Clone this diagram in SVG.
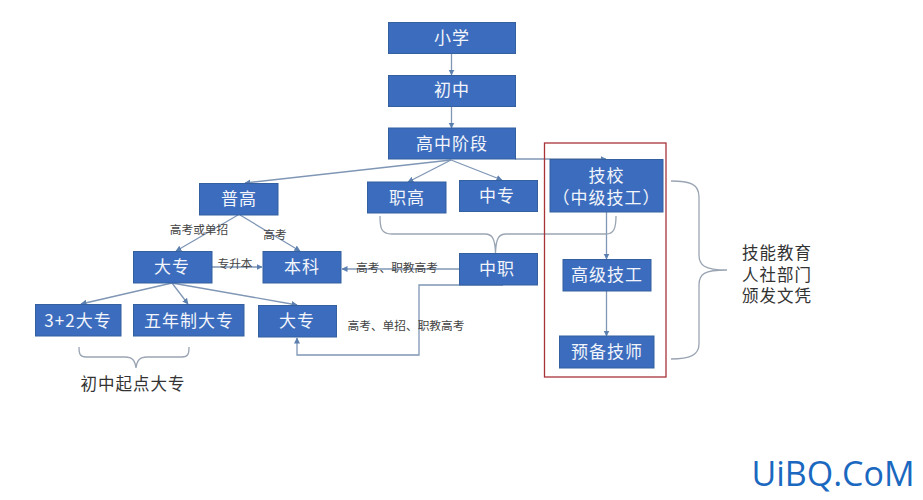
<svg xmlns="http://www.w3.org/2000/svg" width="923" height="500" viewBox="0 0 923 500">
<style>
text{font-family:"Noto Sans CJK SC","Liberation Sans",sans-serif;text-anchor:middle}
.b{fill:#3c6cbd;stroke:#35609f;stroke-width:1}
.t{fill:#f2f5fb;font-size:17px;letter-spacing:1px}
.l{fill:#444;font-size:11.700px}
.k{fill:#333;font-size:16.500px;letter-spacing:1px}
.c{fill:none;stroke:#7f96b5;stroke-width:1.3}
.br{fill:none;stroke:#9aa5b3;stroke-width:1.3}
</style>
<defs><marker id="a" markerWidth="7" markerHeight="7" refX="5.5" refY="3" orient="auto" markerUnits="userSpaceOnUse"><path d="M0,0L6,3L0,6Z" fill="#5b7fae"/></marker></defs>
<rect width="923" height="500" fill="#fff"/>
<g id="connectors">
<path class="c" marker-end="url(#a)" d="M451.500,53V75"/>
<path class="c" marker-end="url(#a)" d="M451.500,106V128"/>
<path class="c" marker-end="url(#a)" d="M451,160L245,183"/>
<path class="c" marker-end="url(#a)" d="M451,160L408,182"/>
<path class="c" marker-end="url(#a)" d="M451,160L502,180"/>
<path class="c" marker-end="url(#a)" d="M515,159H606"/>
<path class="c" marker-end="url(#a)" d="M238,215L176,251"/>
<path class="c" marker-end="url(#a)" d="M240,215L300,251"/>
<path class="c" marker-end="url(#a)" d="M212,267H262"/>
<path class="c" marker-end="url(#a)" d="M172,283L81,304"/>
<path class="c" marker-end="url(#a)" d="M172,283L188,304"/>
<path class="c" marker-end="url(#a)" d="M172,283L297,305"/>
<path class="c" marker-end="url(#a)" d="M459,269H342"/>
<path class="c" marker-end="url(#a)" d="M503,285H419V355H297V338"/>
<path class="c" marker-end="url(#a)" d="M606.500,212V259"/>
<path class="c" marker-end="url(#a)" d="M606.500,291V336"/>
<path class="br" d="M380,216C380,228 381,234 392,234H485C492,234 495,238 495.500,253C496,238 499,234 506,234H606C614,234 616,228 616,216"/>
<path class="br" d="M79,347C79,354 80,357 86,357H125C132,357 135,360 136,368C137,360 140,357 147,357H182C188,357 189,354 189,347"/>
<path class="br" d="M671,181C690,181 699,184 699,197V255C699,265 704,270 727,270C704,270 699,274 699,285V344C699,355 690,359 671,359"/>
</g>
<rect x="544.500" y="143" width="121.500" height="234" fill="none" stroke="#a8343a" stroke-width="1.300"/>
<g id="n-xiaoxue"><rect class="b" x="388.500" y="22.500" width="127" height="31"/><text class="t" x="452" y="44">小学</text></g>
<g id="n-chuzhong"><rect class="b" x="388.500" y="75.500" width="127" height="31"/><text class="t" x="452" y="96">初中</text></g>
<g id="n-gaozhong"><rect class="b" x="388.500" y="128" width="127" height="31"/><text class="t" x="452" y="150">高中阶段</text></g>
<g id="n-zhigao"><rect class="b" x="367.500" y="182" width="78.500" height="31"/><text class="t" x="407" y="204">职高</text></g>
<g id="n-zhongzhuan"><rect class="b" x="459.500" y="180.500" width="78" height="31"/><text class="t" x="497" y="202">中专</text></g>
<g id="n-jixiao"><rect class="b" x="550" y="159.500" width="113" height="52.500"/><text class="t" y="182"><tspan x="606.500">技校</tspan><tspan x="606.500" dy="22">（中级技工）</tspan></text></g>
<g id="n-zhongzhi"><rect class="b" x="459.500" y="253.500" width="78" height="31.500"/><text class="t" x="497" y="275">中职</text></g>
<g id="n-gaoji"><rect class="b" x="563" y="259.500" width="88" height="31.500"/><text class="t" x="607" y="281">高级技工</text></g>
<g id="n-yubei"><rect class="b" x="559.500" y="336" width="94.500" height="32"/><text class="t" x="607" y="358">预备技师</text></g>
<g id="n-pugao"><rect class="b" x="199.500" y="183.500" width="78.500" height="31.500"/><text class="t" x="239" y="205">普高</text></g>
<g id="n-dazhuan"><rect class="b" x="133.500" y="251.500" width="78.500" height="31.500"/><text class="t" x="172" y="273">大专</text></g>
<g id="n-benke"><rect class="b" x="263" y="251.500" width="78" height="31.500"/><text class="t" x="302" y="273">本科</text></g>
<g id="n-32"><rect class="b" x="35.500" y="304.500" width="85.500" height="31.500"/><text class="t" x="78" y="327">3+2大专</text></g>
<g id="n-wunian"><rect class="b" x="133.500" y="304.500" width="110.500" height="31.500"/><text class="t" x="189" y="327">五年制大专</text></g>
<g id="n-dazhuan2"><rect class="b" x="258.500" y="305.500" width="78" height="31.500"/><text class="t" x="297" y="327">大专</text></g>
<g id="labels">
<text class="l" x="199" y="234">高考或单招</text>
<text class="l" x="275" y="239">高考</text>
<text class="l" x="235" y="268">专升本</text>
<text class="l" x="397" y="272">高考、职教高考</text>
<text class="l" x="406" y="330">高考、单招、职教高考</text>
<text class="k" x="133" y="390">初中起点大专</text>
<text class="k" y="259"><tspan x="777">技能教育</tspan><tspan x="777" dy="21.500">人社部门</tspan><tspan x="777" dy="21.500">颁发文凭</tspan></text>
<text x="833" y="486" style="font-family:'Open Sans','Liberation Sans',sans-serif;font-size:34px;fill:#1a68c0">UiBQ.CoM</text>
</g>
</svg>
